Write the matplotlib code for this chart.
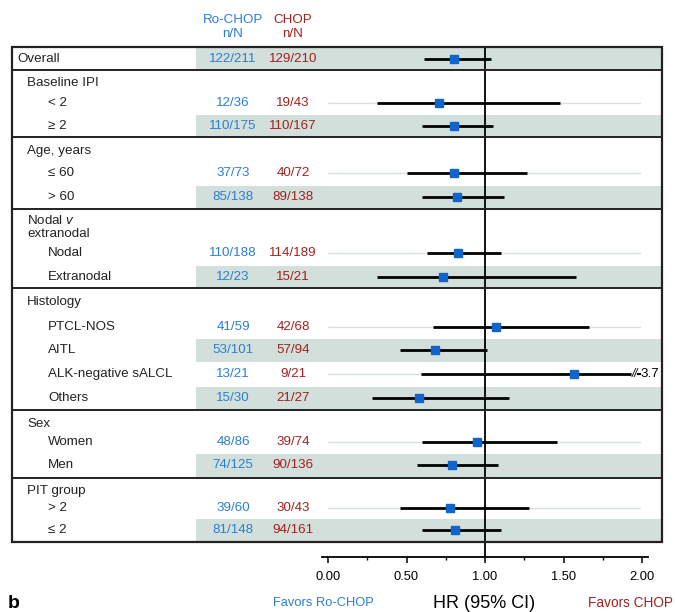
import matplotlib
matplotlib.use("Agg")
import matplotlib.pyplot as plt
from matplotlib.patches import Rectangle
from matplotlib.ticker import FixedLocator, FormatStrFormatter

plt.rcParams['font.family'] = ['Liberation Sans', 'DejaVu Sans']
plt.rcParams['mathtext.fontset'] = 'custom'
plt.rcParams['mathtext.rm'] = 'Liberation Sans'
plt.rcParams['mathtext.it'] = 'Liberation Sans:italic'

# ---------------- data ----------------
row_labels = ["Overall", "< 2", "≥ 2", "≤ 60", "> 60", "Nodal", "Extranodal",
              "PTCL-NOS", "AITL", "ALK-negative sALCL", "Others", "Women", "Men",
              "> 2", "≤ 2"]
ro_chop_nN = ["122/211", "12/36", "110/175", "37/73", "85/138", "110/188", "12/23",
              "41/59", "53/101", "13/21", "15/30", "48/86", "74/125", "39/60", "81/148"]
chop_nN = ["129/210", "19/43", "110/167", "40/72", "89/138", "114/189", "15/21",
           "42/68", "57/94", "9/21", "21/27", "39/74", "90/136", "30/43", "94/161"]
hr = [0.80, 0.71, 0.80, 0.80, 0.82, 0.83, 0.73, 1.07, 0.68, 1.57, 0.58, 0.95, 0.79, 0.78, 0.81]
ci_low = [0.61, 0.31, 0.60, 0.50, 0.60, 0.63, 0.31, 0.67, 0.46, 0.59, 0.28, 0.60, 0.57, 0.46, 0.60]
ci_high = [1.04, 1.48, 1.05, 1.27, 1.12, 1.10, 1.58, 1.66, 1.01, 3.7, 1.15, 1.46, 1.08, 1.28, 1.10]
group_headers = ["Baseline IPI", "Age, years", "Nodal $v$\nextranodal", "Histology",
                 "Sex", "PIT group"]
x_ticks = [0.0, 0.5, 1.0, 1.5, 2.0]
x_minor = [0.25, 0.75, 1.25, 1.75]

# ---------------- layout (vertical positions, px from top) ----------------
row_y = [59, 103, 126, 173, 197, 253, 277, 327, 350, 374, 398, 442, 465, 508, 530]
header_y = [83, 151, 227, 302, 424, 491]
separators = [70, 137, 209, 288, 410, 478]
box_top, box_bottom, axis_y = 47, 542, 557

W, H = 675, 612
X0, SCALE = 328.0, 157.0          # px of HR=0 and px per HR unit

def px2hr(px):
    return (px - X0) / SCALE

BLUE = "#2a7fd2"
RED = "#a3201f"
SQUARE = "#1164c9"
SHADE = "#d3dfdb"
REFLINE = "#d9e1dd"
EDGE = "#222222"
FS = 9.6

fig = plt.figure(figsize=(W / 100, H / 100), dpi=100)
ax = fig.add_axes([12 / W, (H - axis_y) / H, 650 / W, (axis_y - box_top) / H])
ax.set_xlim(px2hr(12), px2hr(662))
ax.set_ylim(axis_y, box_top)

# box
ax.add_patch(Rectangle((px2hr(12), box_top), px2hr(662) - px2hr(12), box_bottom - box_top,
                       fill=False, edgecolor=EDGE, lw=1.6, zorder=6, clip_on=False))
for s in separators:
    ax.plot([px2hr(12), px2hr(662)], [s, s], color=EDGE, lw=1.4, zorder=6, clip_on=False)

# shading / reference lines
bounds = [box_top] + separators + [box_bottom]
for i, y in enumerate(row_y):
    if i % 2 == 0:
        top = max(y - 11.5, box_top)
        bot = y + 11.5
        nxt = min([b for b in bounds if b > y])
        if nxt - bot < 4:
            bot = nxt
        ax.add_patch(Rectangle((px2hr(196), top), px2hr(662) - px2hr(196), bot - top,
                               facecolor=SHADE, edgecolor='none', zorder=1))
    else:
        ax.plot([0.0, 1.99], [y, y], color=REFLINE, lw=1.0, zorder=2)

# vertical reference at HR = 1
ax.axvline(1.0, color="black", lw=1.3, zorder=5)

# CIs and markers
xmax_disp = 1.93
for i, y in enumerate(row_y):
    hi = ci_high[i]
    if hi > xmax_disp:
        ax.plot([ci_low[i], xmax_disp], [y, y], color="black", lw=2.0, zorder=3,
                solid_capstyle='butt')
        ax.plot([xmax_disp + 0.045, 1.985], [y, y], color="black", lw=1.5, zorder=3)
        ax.text(xmax_disp + 0.022, y, "//", ha='center', va='center', fontsize=8.5,
                style='italic', zorder=4)
        ax.text(1.99, y, f"{hi:g}", ha='left', va='center', fontsize=FS, zorder=4)
    else:
        ax.plot([ci_low[i], hi], [y, y], color="black", lw=2.0, zorder=3,
                solid_capstyle='butt')
    ax.plot(hr[i], y, marker='s', color=SQUARE, markersize=5.2, zorder=4, linestyle='none')

# row labels and counts
for i, y in enumerate(row_y):
    lx = 17 if i == 0 else 48
    ax.text(px2hr(lx), y, row_labels[i], ha='left', va='center', fontsize=FS, color="#222222")
    ax.text(px2hr(233), y, ro_chop_nN[i], ha='center', va='center', fontsize=FS, color=BLUE)
    ax.text(px2hr(293), y, chop_nN[i], ha='center', va='center', fontsize=FS, color=RED)
for g, y in zip(group_headers, header_y):
    ax.text(px2hr(27), y, g, ha='left', va='center', fontsize=FS, color="#222222",
            linespacing=1.1)

# column headers
ax.text(px2hr(233), 27, "Ro-CHOP\nn/N", ha='center', va='center', fontsize=FS, color=BLUE,
        linespacing=1.15, clip_on=False)
ax.text(px2hr(293), 27, "CHOP\nn/N", ha='center', va='center', fontsize=FS, color=RED,
        linespacing=1.15, clip_on=False)

# x axis
for side in ['top', 'right', 'left']:
    ax.spines[side].set_visible(False)
ax.spines['bottom'].set_bounds(px2hr(322), px2hr(648))
ax.spines['bottom'].set_linewidth(1.3)
ax.xaxis.set_major_locator(FixedLocator(x_ticks))
ax.xaxis.set_minor_locator(FixedLocator(x_minor))
ax.xaxis.set_major_formatter(FormatStrFormatter('%.2f'))
ax.tick_params(axis='x', which='major', length=4, width=1.1, pad=6, labelsize=9.3)
ax.tick_params(axis='x', which='minor', length=2.5, width=1.0)
ax.set_yticks([])

# footer text
fig.text(8 / W, 1 - 603 / H, "b", fontsize=14, fontweight='bold', ha='left', va='center')
fig.text(323 / W, 1 - 603 / H, "Favors Ro-CHOP", fontsize=9.3, color=BLUE, ha='center', va='center')
fig.text(484 / W, 1 - 603 / H, "HR (95% CI)", fontsize=13, ha='center', va='center')
fig.text(673 / W, 1 - 603 / H, "Favors CHOP", fontsize=9.8, color=RED, ha='right', va='center')

fig.savefig("out.png", dpi=100)
